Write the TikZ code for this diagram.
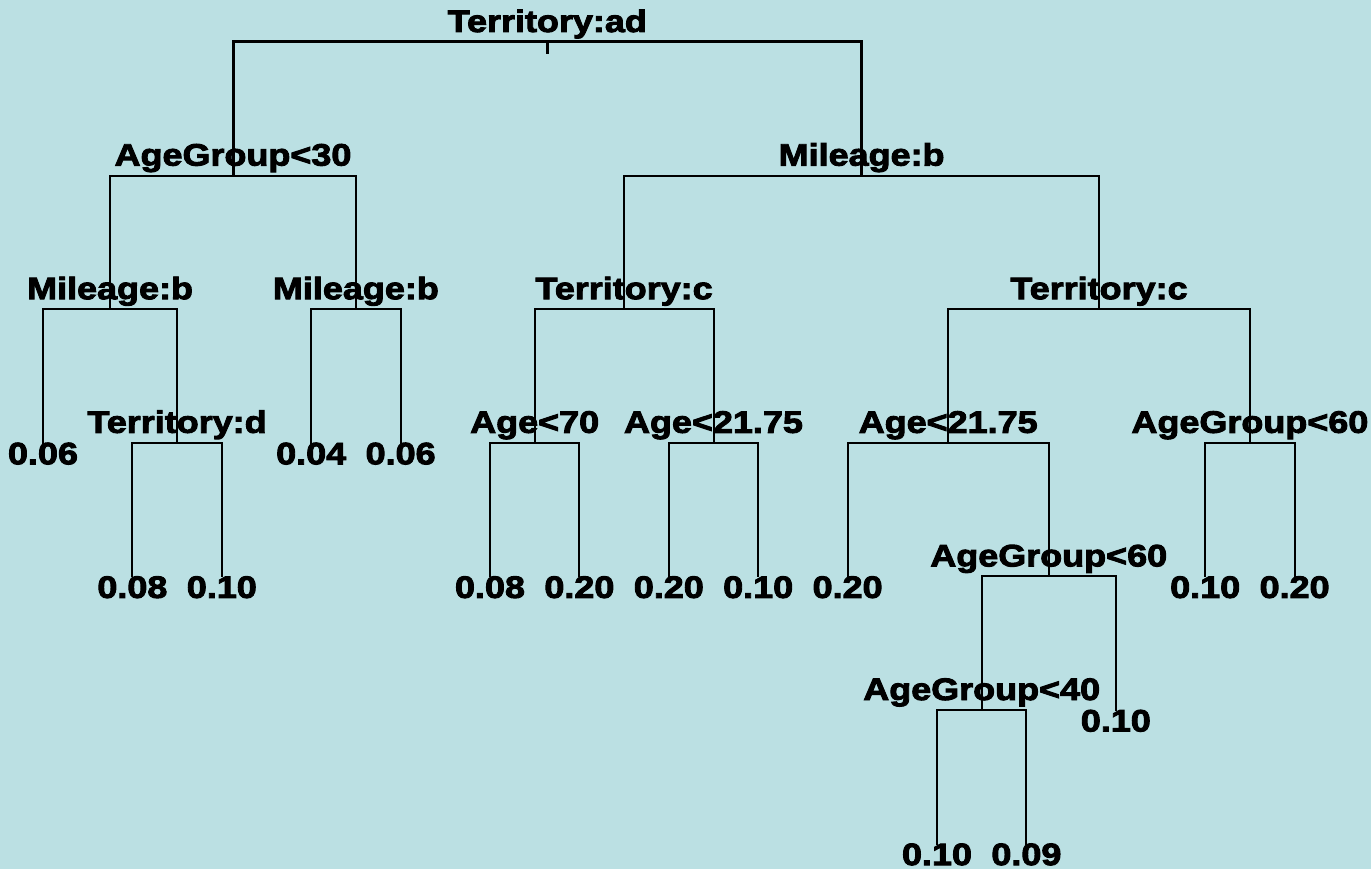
\documentclass[tikz,border=0pt]{standalone}
\usepackage{fontspec}
\newfontfamily\lab{Liberation Sans}[FakeStretch=1.16, BoldFeatures={FakeBold=3}]
\definecolor{bg}{RGB}{187,224,227}
\tikzset{
  lbl/.style={anchor=base, inner sep=0pt, font=\lab\bfseries\fontsize{31}{33}\selectfont},
  edge/.style={line width=2pt, line cap=rect},
  rootedge/.style={line width=3pt, line cap=rect},
}
\newcommand{\splitnode}[4]{% name, x, y, text
  \coordinate (#1) at (#2,#3);
  \node[lbl] (#1t) at (#2,#3-10) {#4};}
\newcommand{\leafnode}[4]{% name, x, y, text
  \coordinate (#1) at (#2,#3);
  \node[lbl] (#1t) at (#2,#3+21.5) {#4};}
\begin{document}
\begin{tikzpicture}[x=1pt,y=-1pt]
\fill[bg] (0,0) rectangle (1371,869);
\useasboundingbox (0,0) rectangle (1371,869);
% splits
\splitnode{r}{547.3}{42}{Territory:ad}
\coordinate (rt) at (547.3,53);
\splitnode{a}{233}{175.6}{AgeGroup<30}
\splitnode{b}{861.6}{175.6}{Mileage:b}
\splitnode{a1}{110.05}{309.2}{Mileage:b}
\splitnode{a2}{355.9}{309.2}{Mileage:b}
\splitnode{b1}{624.1}{309.2}{Territory:c}
\splitnode{b2}{1099}{309.2}{Territory:c}
\splitnode{a1R}{177.1}{442.8}{Territory:d}
\splitnode{b1L}{534.7}{442.8}{Age<70}
\splitnode{b1R}{713.5}{442.8}{Age<21.75}
\splitnode{b2L}{948.2}{442.8}{Age<21.75}
\splitnode{b2R}{1249.9}{442.8}{AgeGroup<60}
\splitnode{b2L2}{1048.75}{576.4}{AgeGroup<60}
\splitnode{b2L2a}{981.7}{710}{AgeGroup<40}
% leaves
\leafnode{a1L}{43}{442.8}{0.06}
\leafnode{a1R1}{132.4}{576.4}{0.08}
\leafnode{a1R2}{221.8}{576.4}{0.10}
\leafnode{a2L}{311.2}{442.8}{0.04}
\leafnode{a2R}{400.6}{442.8}{0.06}
\leafnode{b1L1}{490}{576.4}{0.08}
\leafnode{b1L2}{579.4}{576.4}{0.20}
\leafnode{b1R1}{668.8}{576.4}{0.20}
\leafnode{b1R2}{758.2}{576.4}{0.10}
\leafnode{b2L1}{847.6}{576.4}{0.20}
\leafnode{b2L2b}{1115.8}{710}{0.10}
\leafnode{b2L2a1}{937}{843.6}{0.10}
\leafnode{b2L2a2}{1026.4}{843.6}{0.09}
\leafnode{b2R1}{1205.2}{576.4}{0.10}
\leafnode{b2R2}{1294.6}{576.4}{0.20}
% connectors
\draw[rootedge] (r) -- (rt);
\draw[rootedge] (r) -| (a);
\draw[rootedge] (r) -| (b);
\draw[edge] (a) -| (a1);
\draw[edge] (a) -| (a2);
\draw[edge] (b) -| (b1);
\draw[edge] (b) -| (b2);
\draw[edge] (a1) -| (a1L);
\draw[edge] (a1) -| (a1R);
\draw[edge] (a1R) -| (a1R1);
\draw[edge] (a1R) -| (a1R2);
\draw[edge] (a2) -| (a2L);
\draw[edge] (a2) -| (a2R);
\draw[edge] (b1) -| (b1L);
\draw[edge] (b1) -| (b1R);
\draw[edge] (b1L) -| (b1L1);
\draw[edge] (b1L) -| (b1L2);
\draw[edge] (b1R) -| (b1R1);
\draw[edge] (b1R) -| (b1R2);
\draw[edge] (b2) -| (b2L);
\draw[edge] (b2) -| (b2R);
\draw[edge] (b2L) -| (b2L1);
\draw[edge] (b2L) -| (b2L2);
\draw[edge] (b2L2) -| (b2L2a);
\draw[edge] (b2L2) -| (b2L2b);
\draw[edge] (b2L2a) -| (b2L2a1);
\draw[edge] (b2L2a) -| (b2L2a2);
\draw[edge] (b2R) -| (b2R1);
\draw[edge] (b2R) -| (b2R2);
\end{tikzpicture}
\end{document}
